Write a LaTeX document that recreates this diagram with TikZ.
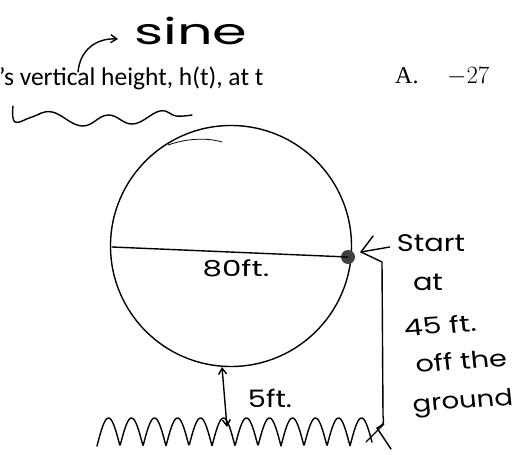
\documentclass[tikz,border=0pt]{standalone}
\usepackage{fontspec}
\setmainfont{Liberation Serif}
\newfontfamily\calib{Carlito}
\newfontfamily\hand{Poppins}
\usetikzlibrary{arrows.meta}
\begin{document}
\begin{tikzpicture}[x=1pt,y=-1pt,
  ink/.style={line width=1.4pt, line cap=round, line join=round},
  thinink/.style={line width=0.8pt, line cap=round},
  hand/.style={font=\hand\fontsize{#1}{#1}\selectfont, inner sep=0pt},
  barb/.style={-{Straight Barb[length=6pt,width=8pt]}}]
\useasboundingbox (0,0) rectangle (523,455);

% printed text
\node[anchor=base west, inner sep=0pt, font=\calib\fontsize{25.5}{25.5}\selectfont] (q) at (-1,85) {’s vertical height, h(t), at t};
\node[anchor=base west, inner sep=0pt, font=\fontsize{24}{24}\selectfont] (optA) at (395,83) {A.};
\node[anchor=base west, inner sep=0pt, font=\fontsize{24}{24}\selectfont] (valA) at (447,83) {$-27$};

% sine annotation
\node[hand=36, xscale=1.55] (sine) at (191,31) {sine};
\coordinate (sinefoot) at (78,72);
\coordinate (sinetip) at (118,39);
\draw[ink, barb] (sinefoot) .. controls (80,50) and (96,38) .. (sinetip);
\draw[ink] plot[smooth, tension=0.7] coordinates {(13,106) (15,122) (32,117) (52,112) (82,126) (108,115) (133,124) (160,111) (176,116) (192,115)};

% wheel
\node[draw, circle, ink, minimum size=241pt, inner sep=0pt] (wheel) at (231,246) {};
\draw[thinink] (168,145) .. controls (185,139) and (205,137) .. (222,142);
\node[circle, fill=black!75, minimum size=14pt, inner sep=0pt] (dot) at (348,257) {};
\coordinate (dl) at (112,247);
\draw[ink] (dl) -- (dot.center);
\node[hand=22, xscale=1.4] (d80) at (236,268) {80ft.};

% start arrow and height line
\node[hand=24, xscale=1.2] (start) at (431,243) {Start};
\node[hand=24, xscale=1.2] (at) at (428,282) {at};
\node[hand=23, xscale=1.3, rotate=5] (h45) at (440,325) {45 ft.};
\node[hand=23, xscale=1.25, rotate=5] (off) at (461,361) {off the};
\node[hand=23, xscale=1.2, rotate=5] (ground) at (463,403) {ground};
\coordinate (tip) at (361,252);
\draw[ink] (start.west) ++(-7,4) -- (tip);
\draw[ink] (373,236) -- (tip) -- (382,262) -- (383,416) .. controls (384,424) .. (377,428);

% 5 ft gap
\coordinate (gtop) at (222,367);
\coordinate (gbot) at (227,427);
\draw[ink, {Straight Barb[length=6pt,width=8pt]}-{Straight Barb[length=6pt,width=8pt]}] (gtop) -- (gbot);
\node[hand=24, xscale=1.2] (g5) at (270,398) {5ft.};

% ground
\draw[ink] plot[domain=97:372, samples=400, variable=\x] (\x, {446-28*abs(sin(((\x-97)/23)*180))});
\draw[ink] (366,442) -- (384,424);
\draw[ink] (377,428) -- (391,449);
\end{tikzpicture}
\end{document}
